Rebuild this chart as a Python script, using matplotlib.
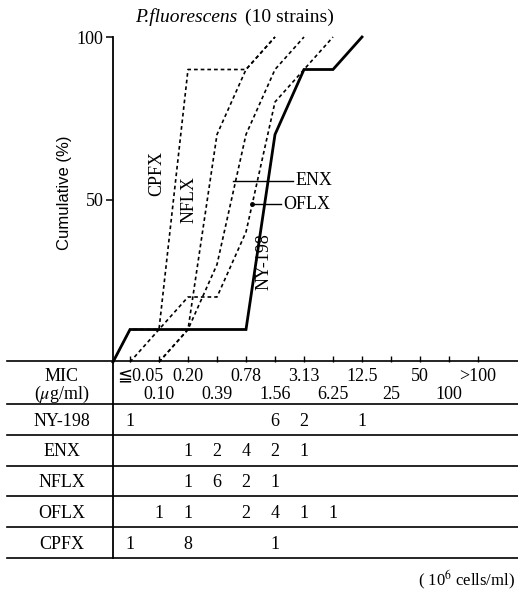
import numpy as np
import matplotlib.pyplot as plt

plt.rcParams['font.family'] = ['Liberation Serif', 'DejaVu Serif', 'DejaVu Sans', 'Noto Sans CJK JP']
plt.rcParams['mathtext.fontset'] = 'stix'

mic_labels = ['≦0.05', '0.10', '0.20', '0.39', '0.78', '1.56', '3.13',
              '6.25', '12.5', '25', '50', '100', '>100']
drugs = ['NY-198', 'ENX', 'NFLX', 'OFLX', 'CPFX']
ny198 = [1, 0, 0, 0, 0, 6, 2, 0, 1, 0, 0, 0, 0]
enx = [0, 0, 1, 2, 4, 2, 1, 0, 0, 0, 0, 0, 0]
nflx = [0, 0, 1, 6, 2, 1, 0, 0, 0, 0, 0, 0, 0]
oflx = [0, 1, 1, 0, 2, 4, 1, 1, 0, 0, 0, 0, 0]
cpfx = [1, 0, 8, 0, 0, 1, 0, 0, 0, 0, 0, 0, 0]
n_strains = 10

W, H = 518, 592
fig = plt.figure(figsize=(W / 100, H / 100), dpi=100)

# layout in pixels
ax_l, ax_r, ax_top, ax_bot = 113, 518, 37, 362
tick0, step = 130, 29.0
xmin = -(tick0 - ax_l) / step
xmax = (ax_r - tick0) / step

ax = fig.add_axes([ax_l / W, 1 - ax_bot / H, (ax_r - ax_l) / W, (ax_bot - ax_top) / H])
ax.set_xlim(xmin, xmax)
ax.set_ylim(0, 100)
for s in ['top', 'right', 'bottom']:
    ax.spines[s].set_visible(False)
ax.spines['left'].set_linewidth(1.3)
ax.set_xticks(range(len(mic_labels)))
ax.set_xticklabels([])
ax.tick_params(axis='x', direction='in', length=4, width=1.0)
ax.set_yticks([50, 100])
ax.tick_params(axis='y', direction='out', length=5, width=1.1, labelsize=13, pad=2)

dash = (0, (2.2, 1.8))
series = [(ny198, '-', 2.0), (enx, dash, 1.2), (nflx, dash, 1.2),
          (oflx, dash, 1.2), (cpfx, dash, 1.2)]
for counts, ls, lw in series:
    counts = np.array(counts)
    cum = np.cumsum(counts) * 100 / n_strains
    nz = np.nonzero(counts)[0]
    first, last = nz[0], nz[-1]
    xs = [max(first - 1, xmin)] + list(range(first, last + 1))
    ys = [0] + list(cum[first:last + 1])
    ax.plot(xs, ys, color='black', linestyle=ls, linewidth=lw,
            solid_joinstyle='miter', clip_on=False)

# curve labels
ax.text(0.93, 58, 'CPFX', rotation=90, ha='center', va='center', fontsize=13)
ax.text(2.03, 50, 'NFLX', rotation=90, ha='center', va='center', fontsize=13)
ax.text(4.62, 31, 'NY-198', rotation=90, ha='center', va='center', fontsize=13)
ax.plot([3.55, 5.62], [55.7, 55.7], color='black', lw=1.0)
ax.text(5.7, 55.7, 'ENX', ha='left', va='center', fontsize=13)
ax.plot([4.2, 5.22], [48.6, 48.6], color='black', lw=1.0)
ax.plot([4.2], [48.6], 'o', color='black', ms=2.5)
ax.text(5.27, 48.6, 'OFLX', ha='left', va='center', fontsize=13)

# title
fig.text(237 / W, 1 - 17 / H, 'P.fluorescens', style='italic', ha='right',
         va='center', fontsize=14)
fig.text(245 / W, 1 - 17 / H, '(10 strains)', ha='left', va='center', fontsize=14)

fig.text(65 / W, 1 - 193 / H, 'Cumulative (%)', rotation=90, ha='center',
         va='center', fontsize=12, family='Liberation Sans')

# table
tb_top, tb_bot = 361, 558
axt = fig.add_axes([ax_l / W, 1 - tb_bot / H, (ax_r - ax_l) / W, (tb_bot - tb_top) / H])
axt.set_xlim(xmin, xmax)
axt.set_ylim(6.4, 0)
for s in ['top', 'right', 'bottom']:
    axt.spines[s].set_visible(False)
axt.spines['left'].set_linewidth(1.3)
axt.set_xticks([])
axt.set_yticks([])
axt.patch.set_visible(False)

line_left = (7 - ax_l) / (ax_r - ax_l)
for y in [0, 1.4, 2.4, 3.4, 4.4, 5.4, 6.4]:
    axt.axhline(y, xmin=line_left, xmax=1, color='black', lw=1.2, clip_on=False)

trans = axt.get_yaxis_transform()
lab_x = (62 - ax_l) / (ax_r - ax_l)
axt.text(lab_x, 0.5, 'MIC', transform=trans, ha='center', va='center', fontsize=13)
axt.text(lab_x, 1.1, '($\\mu$g/ml)', transform=trans, ha='center', va='center', fontsize=13)

for i, lab in enumerate(mic_labels):
    y = 0.5 if i % 2 == 0 else 1.1
    if i == 0:
        axt.text(i - 0.45, y, lab, ha='left', va='center', fontsize=13)
    else:
        axt.text(i, y, lab, ha='center', va='center', fontsize=13)

for r, (name, counts) in enumerate(zip(drugs, [ny198, enx, nflx, oflx, cpfx])):
    y = 1.95 + r
    axt.text(lab_x, y, name, transform=trans, ha='center', va='center', fontsize=13)
    for i, c in enumerate(counts):
        if c > 0:
            axt.text(i, y, str(c), ha='center', va='center', fontsize=13)

fig.text(515 / W, 1 - 580 / H, '( 10$^6$ cells/ml)', ha='right', va='center', fontsize=12)

fig.savefig('out.png', dpi=100)
